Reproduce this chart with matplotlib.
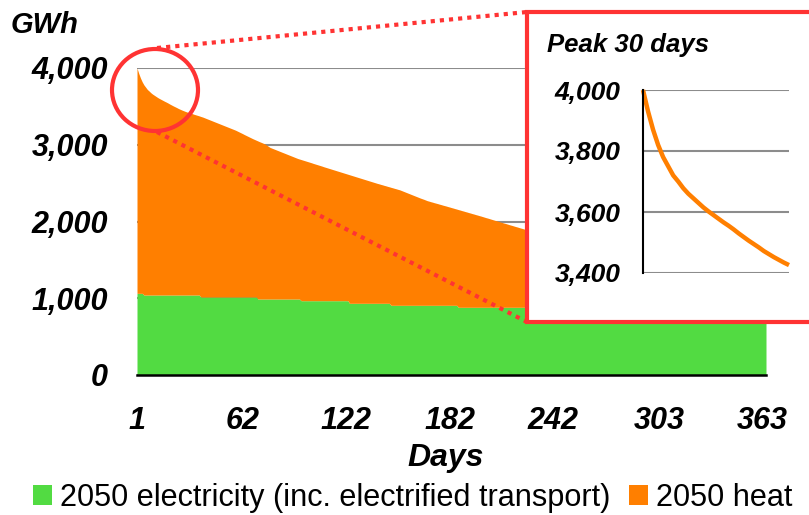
import numpy as np
import matplotlib
matplotlib.use("Agg")
import matplotlib.pyplot as plt
from matplotlib.patches import Rectangle, Ellipse, Patch
from matplotlib.lines import Line2D

plt.rcParams['font.family'] = ['Liberation Sans', 'DejaVu Sans']

GREEN = '#52db42'
ORANGE = '#ff7f00'
RED = '#ff3333'
GRID = '#8c8c8c'

# daily energy demand, days sorted from highest to lowest (GWh)
total_demand = [
    4000, 3930, 3870, 3820, 3780, 3750, 3720, 3700, 3678, 3660,
    3645, 3630, 3615, 3602, 3590, 3578, 3566, 3555, 3543, 3530,
    3518, 3506, 3495, 3484, 3472, 3462, 3452, 3443, 3434, 3426,
    3419, 3412, 3405, 3397, 3390, 3383, 3376, 3368, 3361, 3352,
    3343, 3334, 3325, 3316, 3307, 3298, 3289, 3280, 3271, 3262,
    3253, 3244, 3235, 3226, 3217, 3208, 3199, 3190, 3179, 3168,
    3157, 3146, 3134, 3123, 3112, 3101, 3090, 3079, 3069, 3059,
    3049, 3039, 3030, 3020, 3010, 2995, 2980, 2965, 2956, 2947,
    2938, 2929, 2920, 2911, 2902, 2893, 2884, 2875, 2866, 2857,
    2848, 2839, 2830, 2821, 2814, 2807, 2800, 2793, 2786, 2779,
    2772, 2765, 2757, 2750, 2743, 2736, 2729, 2722, 2714, 2707,
    2700, 2693, 2686, 2679, 2672, 2665, 2658, 2651, 2644, 2637,
    2630, 2623, 2616, 2609, 2602, 2595, 2588, 2581, 2574, 2567,
    2560, 2553, 2546, 2539, 2532, 2525, 2518, 2511, 2504, 2497,
    2491, 2484, 2478, 2471, 2465, 2458, 2452, 2445, 2439, 2432,
    2426, 2419, 2413, 2404, 2395, 2386, 2377, 2368, 2359, 2350,
    2341, 2332, 2323, 2314, 2305, 2297, 2289, 2280, 2271, 2265,
    2258, 2252, 2245, 2239, 2233, 2226, 2220, 2213, 2207, 2201,
    2194, 2188, 2181, 2175, 2168, 2162, 2155, 2149, 2142, 2136,
    2129, 2123, 2116, 2110, 2103, 2097, 2090, 2084, 2077, 2071,
    2064, 2057, 2050, 2044, 2037, 2030, 2023, 2016, 2010, 2003,
    1996, 1989, 1982, 1976, 1969, 1962, 1955, 1949, 1942, 1935,
    1929, 1922, 1915, 1909, 1902, 1895, 1889, 1883, 1876, 1870,
    1863, 1857, 1850, 1844, 1837, 1831, 1824, 1818, 1811, 1805,
    1798, 1792, 1785, 1779, 1772, 1766, 1759, 1753, 1746, 1740,
    1734, 1728, 1722, 1716, 1710, 1704, 1698, 1692, 1686, 1680,
    1674, 1668, 1662, 1656, 1650, 1644, 1638, 1632, 1626, 1620,
    1614, 1608, 1602, 1596, 1590, 1584, 1578, 1572, 1566, 1560,
    1554, 1548, 1542, 1536, 1530, 1524, 1518, 1512, 1506, 1500,
    1494, 1488, 1482, 1476, 1470, 1464, 1458, 1452, 1446, 1440,
    1434, 1428, 1422, 1416, 1410, 1404, 1398, 1392, 1386, 1380,
    1375, 1370, 1365, 1360, 1355, 1350, 1345, 1340, 1335, 1330,
    1325, 1320, 1315, 1310, 1305, 1300, 1295, 1290, 1285, 1280,
    1275, 1270, 1265, 1260, 1255, 1250, 1245, 1240, 1235, 1230,
    1225, 1220, 1215, 1210, 1205, 1200, 1195, 1190, 1185, 1180,
    1175, 1170, 1165, 1160, 1155, 1150, 1145, 1140, 1135, 1130,
    1125, 1120, 1115, 1110, 1105,
]

# electricity demand comes in flat blocks: level (GWh) and number of days
elec_levels = [1064, 1042, 1016, 990, 968, 934, 908, 882, 858, 835, 815]
elec_days = [4, 33, 33, 25, 28, 24, 39, 45, 40, 45, 49]

day_ticks = [1, 62, 122, 182, 242, 303, 363]
gwh_ticks = [0, 1000, 2000, 3000, 4000]
peak_ticks = [3400, 3600, 3800, 4000]
peak_len = 30

total = np.array(total_demand, dtype=float)
elec = np.repeat(elec_levels, elec_days).astype(float)
days = np.arange(1, len(total) + 1)

W, H = 809, 515
fig = plt.figure(figsize=(W / 100, H / 100), dpi=100)


def fx(px):
    return px / W


def fy(py):
    return 1 - py / H


bold_it = dict(fontweight='bold', fontstyle='italic')

# main stacked area
ax = fig.add_axes([fx(137), fy(375), fx(766) - fx(137), fy(68) - fy(375)])
ax.set_axisbelow(True)
ax.fill_between(days, 0, elec, color=GREEN, lw=0, zorder=2)
ax.fill_between(days, elec, total, color=ORANGE, lw=0, zorder=2)
ax.set_xlim(1, 365)
ax.set_ylim(0, 4000)
ax.set_xticks(day_ticks)
ax.set_yticks(gwh_ticks)
ax.set_yticklabels([f'{v:,}' for v in gwh_ticks])
ax.yaxis.grid(True, color=GRID, lw=1.5)
ax.tick_params(length=0, labelsize=22)
ax.tick_params(axis='x', pad=22)
ax.tick_params(axis='y', pad=21)
for lab in ax.get_xticklabels() + ax.get_yticklabels():
    lab.set_fontweight('bold')
    lab.set_fontstyle('italic')
for s in ['top', 'right', 'left']:
    ax.spines[s].set_visible(False)
ax.spines['bottom'].set_linewidth(1.8)
ax.spines['bottom'].set_zorder(3)

fig.text(fx(446), fy(458), 'Days', ha='center', va='center', fontsize=23, **bold_it)
fig.text(fx(11), fy(25), 'GWh', ha='left', va='center', fontsize=21, **bold_it)

# zoom box for the peak
box = Rectangle((fx(527), fy(322)), fx(830) - fx(527), fy(12) - fy(322),
                transform=fig.transFigure, facecolor='white', edgecolor=RED,
                lw=3, zorder=5)
fig.add_artist(box)

ell = Ellipse((fx(155), fy(90)), fx(86), 82 / H, transform=fig.transFigure,
              fill=False, edgecolor=RED, lw=3, zorder=6)
fig.add_artist(ell)
for (x0, y0), (x1, y1) in [((157, 48), (527, 12)), ((157, 132), (527, 322))]:
    fig.add_artist(Line2D([fx(x0), fx(x1)], [fy(y0), fy(y1)], transform=fig.transFigure,
                          color=RED, lw=3, ls=(0, (1, 1.2)), dash_capstyle='butt',
                          zorder=6))

fig.text(fx(547), fy(45), 'Peak 30 days', ha='left', va='center', fontsize=18.5,
         zorder=7, **bold_it)

ins = fig.add_axes([fx(643), fy(273), fx(789) - fx(643), fy(90) - fy(273)], zorder=7)
ins.patch.set_alpha(0)
ins.plot(days[:peak_len], total[:peak_len], color=ORANGE, lw=3.2, clip_on=False,
         solid_capstyle='butt')
ins.set_xlim(1, peak_len)
ins.set_ylim(3400, 4000)
ins.set_xticks([])
ins.set_yticks(peak_ticks)
ins.set_yticklabels([f'{v:,}' for v in peak_ticks])
ins.yaxis.grid(True, color=GRID, lw=1.5)
ins.set_axisbelow(True)
ins.tick_params(length=0, labelsize=19, pad=16)
for lab in ins.get_yticklabels():
    lab.set_fontweight('bold')
    lab.set_fontstyle('italic')
for s in ['top', 'right', 'bottom']:
    ins.spines[s].set_visible(False)
ins.spines['left'].set_linewidth(1.5)

handles = [Patch(facecolor=GREEN, edgecolor='none'), Patch(facecolor=ORANGE, edgecolor='none')]
fig.legend(handles, ['2050 electricity (inc. electrified transport)', '2050 heat'],
           loc='center left', bbox_to_anchor=(fx(33), fy(498)), ncol=2, frameon=False,
           fontsize=22.1, handlelength=0.62, handleheight=0.62, handletextpad=0.27,
           columnspacing=0.6, borderaxespad=0, borderpad=0)

fig.savefig('out.png', dpi=100)
